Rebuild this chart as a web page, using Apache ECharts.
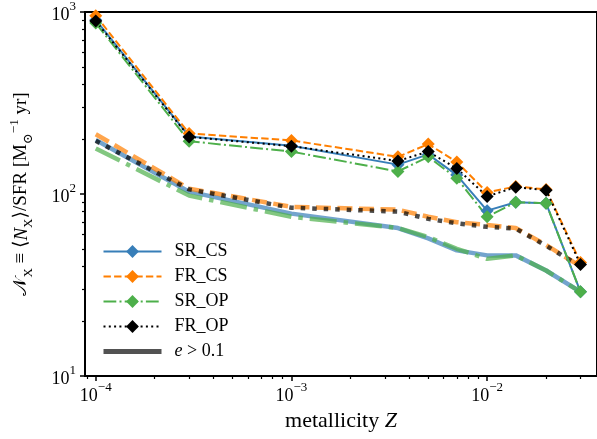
<!DOCTYPE html>
<html>
<head>
<meta charset="utf-8">
<script src="https://cdn.jsdelivr.net/npm/echarts@6/dist/echarts.min.js"></script>
<style>
html, body { margin: 0; padding: 0; background: #fff; overflow: hidden; }
#chart { width: 597px; height: 439px; }
</style>
</head>
<body>
<div id="chart"></div>
<script>
// Metallicity grid (Z) and rate per unit star formation for each model
const metallicity = [1e-4, 3e-4, 1e-3, 3.5e-3, 5e-3, 7e-3, 1e-2, 1.4e-2, 2e-2, 3e-2];

// all binaries
const srCS = [905, 207, 184, 145, 165, 127, 81, 90, 89, 29];
const frCS = [955, 215, 197, 160, 188, 150, 102, 110, 106, 42];
const srOP = [870, 195, 171, 133, 160, 122, 75, 90, 89, 29];
const frOP = [892, 206, 183, 152, 171, 138, 97, 109, 105, 41];

// eccentric subset, e > 0.1
const srCSecc = [198, 103, 78, 65, 57, 49, 46, 46, 38, 29];
const frCSecc = [213, 107, 85, 82, 75, 70, 67.6, 65, 52.5, 40];
const srOPecc = [178, 98, 75, 65, 58, 50, 44, 46, 38, 29];
const frOPecc = [196, 106, 84, 80, 73, 69, 66, 64.5, 52, 40];

// decade exponents that get a labelled tick
const xTickExponents = [-4, -3, -2];
const yTickExponents = [1, 2, 3];

const X_MIN = -4.055, X_MAX = -1.4386;
const Y_MIN = 1, Y_MAX = 3;

const FONT = "'Liberation Serif', 'DejaVu Serif', serif";

function minorLogTicks(lo, hi) {
  const out = [];
  for (let d = Math.floor(lo) - 1; d <= Math.ceil(hi); d++) {
    for (let k = 2; k <= 9; k++) {
      const v = d + Math.log10(k);
      if (v > lo && v < hi) out.push(v);
    }
  }
  return out;
}

const toPoints = vals => metallicity.map((z, i) => [Math.log10(z), Math.log10(vals[i])]);

const tickRich = {
  b: { fontFamily: FONT, fontSize: 18, lineHeight: 24, verticalAlign: 'bottom', color: '#000' },
  s: { fontFamily: FONT, fontSize: 13, lineHeight: 13, verticalAlign: 'top', color: '#000' }
};
const powLabel = v => {
  const e = Math.round(v);
  return '{b|10}{s|' + (e < 0 ? '\u2212' + Math.abs(e) : e) + '}';
};

const C_BLUE = '#377eb8', C_ORANGE = '#ff7f00', C_GREEN = '#4daf4a', C_BLACK = '#000000';
const fade = (hex, a) => {
  const n = parseInt(hex.slice(1), 16);
  return 'rgba(' + ((n >> 16) & 255) + ',' + ((n >> 8) & 255) + ',' + (n & 255) + ',' + a + ')';
};

const thinW = 2, thickW = 4.5;
const dash = { solid: 'solid', dashed: [7.4, 3.2], dashdot: [12.8, 3.2, 2, 3.2], dotted: [2, 3.3] };
const dashThick = { solid: 'solid', dashed: [15, 6.5], dashdot: [27, 7, 4.5, 7], dotted: [4.5, 7] };

function mainSeries(name, vals, color, style) {
  return {
    type: 'line', name: name, data: toPoints(vals),
    symbol: 'diamond', symbolSize: 13, showSymbol: true,
    lineStyle: { color: color, width: thinW, type: dash[style] },
    itemStyle: { color: color },
    z: 4, clip: true
  };
}
function eccSeries(name, vals, color, style) {
  return {
    type: 'line', name: name, data: toPoints(vals),
    symbol: 'none', showSymbol: false,
    lineStyle: { color: fade(color, 0.7), width: thickW, type: dashThick[style] },
    itemStyle: { color: fade(color, 0.7) },
    z: 3, clip: true
  };
}

const series = [
  eccSeries('SR_CS e>0.1', srCSecc, C_BLUE, 'solid'),
  eccSeries('FR_CS e>0.1', frCSecc, C_ORANGE, 'dashed'),
  eccSeries('SR_OP e>0.1', srOPecc, C_GREEN, 'dashdot'),
  eccSeries('FR_OP e>0.1', frOPecc, C_BLACK, 'dotted'),
  mainSeries('SR_CS', srCS, C_BLUE, 'solid'),
  mainSeries('FR_CS', frCS, C_ORANGE, 'dashed'),
  mainSeries('SR_OP', srOP, C_GREEN, 'dashdot'),
  mainSeries('FR_OP', frOP, C_BLACK, 'dotted'),
  {
    type: 'line', name: 'e > 0.1', data: [], symbol: 'none',
    lineStyle: { color: 'rgba(0,0,0,0.68)', width: 5, type: 'solid' },
    itemStyle: { color: 'rgba(0,0,0,0.68)' }
  }
];

const axisCommon = {
  axisLine: { show: true, onZero: false, lineStyle: { color: '#000', width: 2 } },
  splitLine: { show: false }
};

const chart = echarts.init(document.getElementById('chart'), null, { renderer: 'canvas' });
chart.setOption({
  animation: false,
  backgroundColor: '#fff',
  grid: {
    left: 80, right: -5, top: 12, bottom: 63,
    show: true, borderColor: '#000', borderWidth: 2, backgroundColor: 'transparent'
  },
  legend: {
    orient: 'vertical', left: 96, top: 237,
    itemWidth: 58, itemHeight: 16, itemGap: 6,
    selectedMode: false,
    lineStyle: { width: 'inherit' },
    data: ['SR_CS', 'FR_CS', 'SR_OP', 'FR_OP',
      { name: 'e > 0.1', itemStyle: { opacity: 0 } }],
    formatter: name => name === 'e > 0.1' ? '{it|e} > 0.1' : name,
    textStyle: {
      fontFamily: FONT, fontSize: 18, lineHeight: 19, color: '#000', padding: [0, 0, 0, 8],
      rich: { it: { fontFamily: FONT, fontSize: 18, fontStyle: 'italic', color: '#000' } }
    }
  },
  xAxis: [
    Object.assign({}, axisCommon, {
      type: 'value', min: X_MIN, max: X_MAX, position: 'bottom',
      axisTick: { show: true, inside: false, length: 5, lineStyle: { color: '#000', width: 1.5 }, customValues: xTickExponents },
      axisLabel: { customValues: xTickExponents, formatter: powLabel, margin: 5, rich: tickRich },
      name: 'metallicity {it|Z}', nameLocation: 'middle', nameGap: 27,
      nameTextStyle: {
        fontFamily: FONT, fontSize: 22, color: '#000',
        rich: { it: { fontFamily: FONT, fontSize: 22, fontStyle: 'italic', color: '#000' } }
      }
    }),
    {
      type: 'value', min: X_MIN, max: X_MAX, position: 'bottom',
      axisLine: { show: false }, splitLine: { show: false }, axisLabel: { show: false },
      axisTick: { show: true, inside: false, length: 3, lineStyle: { color: '#000', width: 1.2 }, customValues: minorLogTicks(X_MIN, X_MAX) }
    }
  ],
  yAxis: [
    Object.assign({}, axisCommon, {
      type: 'value', min: Y_MIN, max: Y_MAX, position: 'left',
      axisTick: { show: true, inside: false, length: 5, lineStyle: { color: '#000', width: 1.5 }, customValues: yTickExponents },
      axisLabel: { customValues: yTickExponents, formatter: powLabel, margin: 9, rich: tickRich },
      name: '{cal|\uD835\uDCA9}{sub|X}{t| \u2261 \u27E8}{it|N}{sub|X}{t|\u27E9/SFR [M}{sub|\u2299}{sup|\u22121}{t| yr]}',
      nameLocation: 'middle', nameRotate: 90, nameGap: 50,
      nameTextStyle: {
        fontFamily: FONT, fontSize: 19, color: '#000',
        rich: {
          t: { fontFamily: FONT, fontSize: 19, lineHeight: 27, verticalAlign: 'middle', color: '#000' },
          it: { fontFamily: FONT, fontSize: 19, lineHeight: 27, fontStyle: 'italic', verticalAlign: 'middle', color: '#000' },
          cal: { fontFamily: "'DejaVu Serif', 'DejaVu Sans', serif", fontSize: 19, lineHeight: 27, verticalAlign: 'middle', color: '#000' },
          sub: { fontFamily: FONT, fontSize: 13, lineHeight: 13, verticalAlign: 'bottom', color: '#000' },
          sup: { fontFamily: FONT, fontSize: 13, lineHeight: 13, verticalAlign: 'top', color: '#000' }
        }
      }
    }),
    {
      type: 'value', min: Y_MIN, max: Y_MAX, position: 'left',
      axisLine: { show: false }, splitLine: { show: false }, axisLabel: { show: false },
      axisTick: { show: true, inside: false, length: 3, lineStyle: { color: '#000', width: 1.2 }, customValues: minorLogTicks(Y_MIN, Y_MAX) }
    }
  ],
  series: series
});
</script>
</body>
</html>
